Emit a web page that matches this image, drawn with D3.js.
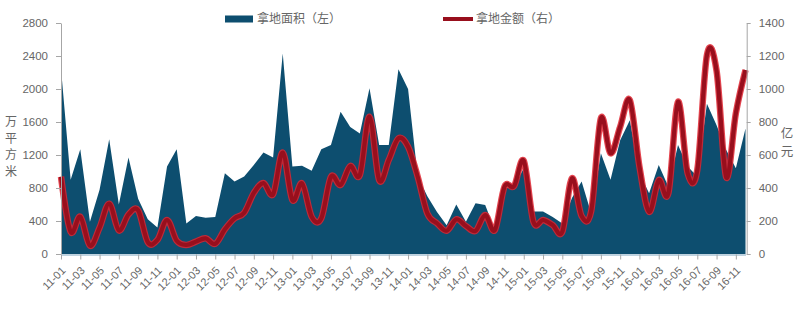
<!DOCTYPE html>
<html>
<head>
<meta charset="utf-8">
<script src="https://cdn.jsdelivr.net/npm/d3@7/dist/d3.min.js"></script>
<style>
  body { margin: 0; background: #fff; }
  svg { display: block; font-family: "Open Sans", "Noto Sans CJK SC", sans-serif; }
</style>
</head>
<body>
<svg id="chart"></svg>
<script>
// months 2011-01 .. 2016-12
const years = ['11', '12', '13', '14', '15', '16'];
const months = [];
years.forEach(y => { for (let m = 1; m <= 12; m++) months.push(y + '-' + String(m).padStart(2, '0')); });

// 拿地面积 (万平方米, left axis)
const areaValues = [
  2250, 900, 1270, 390, 780, 1390, 600, 1170, 670, 420, 320, 1060,
  1270, 370, 460, 440, 450, 980, 880, 940, 1080, 1230, 1170, 2430,
  1060, 1070, 1010, 1270, 1320, 1725, 1540, 1460, 2010, 1320, 1320, 2240,
  2000, 940, 700, 510, 350, 600, 390, 615, 595, 290, 800, 815,
  1040, 515, 515, 450, 370, 680, 880, 490, 1220, 900, 1380, 1620,
  980, 735, 1080, 815, 1320, 1060, 940, 1820, 1560, 1260, 1040, 1520
];

// 拿地金额 (亿元, right axis)
const amountValues = [
  468, 135, 226, 50, 160, 305, 143, 240, 265, 72, 85, 206,
  80, 55, 75, 95, 62, 150, 216, 250, 370, 430, 362, 615,
  327, 428, 226, 216, 468, 418, 533, 479, 832, 448, 570, 701,
  650, 468, 246, 186, 141, 210, 170, 140, 236, 145, 408, 412,
  565, 196, 206, 176, 135, 459, 230, 262, 822, 610, 771, 933,
  529, 256, 448, 368, 923, 489, 509, 1205, 1110, 465, 853, 1115
];

const leftTicks = [0, 400, 800, 1200, 1600, 2000, 2400, 2800];
const rightTicks = [0, 200, 400, 600, 800, 1000, 1200, 1400];
const xTicks = months.filter((d, i) => i % 2 === 0);

const seriesNames = ['拿地面积（左）', '拿地金额（右）'];
const leftTitle = '万平方米';
const rightTitle = '亿元';

const data = months.map((m, i) => ({ month: m, area: areaValues[i], amount: amountValues[i] }));

function createChart(data) {
    const width = 803, height = 309;
    const areaColor = '#0d4e6f';
    const textColor = '#666666';

    const svg = d3.select('#chart')
                  .attr('width', width)
                  .attr('height', height);

    const xScale = d3.scalePoint()
                     .domain(months)
                     .range([61, 745.5]);

    const yLeft = d3.scaleLinear()
                    .domain([0, 2800])
                    .range([254, 23]);

    const yRight = d3.scaleLinear()
                     .domain([0, 1400])
                     .range([254, 23]);

    // area
    const area = d3.area()
                   .x(d => xScale(d.month))
                   .y0(yLeft(0))
                   .y1(d => yLeft(d.area));

    svg.append('path')
       .datum(data)
       .attr('fill', areaColor)
       .attr('d', area);

    // smooth line with a light red rim
    const line = d3.line()
                   .x(d => xScale(d.month))
                   .y(d => yRight(d.amount))
                   .curve(d3.curveCardinal.tension(0));

    svg.append('path')
       .datum(data)
       .attr('fill', 'none')
       .attr('stroke', '#df2430')
       .attr('stroke-width', 6.5)
       .attr('stroke-opacity', 0.85)
       .attr('d', line);

    svg.append('path')
       .datum(data)
       .attr('fill', 'none')
       .attr('stroke', '#980f1d')
       .attr('stroke-width', 4.2)
       .attr('d', line);

    // left axis
    const gl = svg.append('g')
       .attr('transform', 'translate(61,0)')
       .call(d3.axisLeft(yLeft).tickValues(leftTicks).tickFormat(d3.format('d'))
              .tickSize(5).tickPadding(8).tickSizeOuter(0));
    gl.select('.domain').attr('stroke', '#a6a6a6');
    gl.selectAll('.tick line').attr('stroke', '#a6a6a6');
    gl.selectAll('text').attr('fill', textColor).style('font-size', '11.5px');

    // right axis
    const gr = svg.append('g')
       .attr('transform', 'translate(746.7,0)')
       .call(d3.axisRight(yRight).tickValues(rightTicks).tickFormat(d3.format('d'))
              .tickSize(4).tickPadding(8).tickSizeOuter(0));
    gr.select('.domain').attr('stroke', '#a6a6a6');
    gr.selectAll('.tick line').attr('stroke', '#a6a6a6');
    gr.selectAll('text').attr('fill', textColor).style('font-size', '11.5px');

    // bottom axis
    const gb = svg.append('g')
       .attr('transform', 'translate(0,254.5)')
       .call(d3.axisBottom(xScale).tickValues(xTicks).tickSize(5).tickSizeOuter(0));
    gb.select('.domain').attr('stroke', '#a9c3d4').attr('stroke-width', 1.5);
    gb.selectAll('.tick line').attr('stroke', '#a6a6a6');
    gb.selectAll('text')
      .attr('fill', textColor)
      .style('font-size', '11px')
      .style('text-anchor', 'end')
      .attr('x', 0)
      .attr('y', 0)
      .attr('dy', '0.35em')
      .attr('transform', 'translate(2,14) rotate(-45)');

    // axis titles (vertical characters)
    svg.append('g').selectAll('text')
       .data(leftTitle.split(''))
       .enter()
       .append('text')
       .attr('x', 11)
       .attr('y', (d, i) => 122 + i * 16.5)
       .attr('dy', '0.35em')
       .style('text-anchor', 'middle')
       .style('font-size', '12px')
       .style('font-family', '"Noto Sans CJK SC", sans-serif')
       .attr('fill', textColor)
       .text(d => d);

    svg.append('g').selectAll('text')
       .data(rightTitle.split(''))
       .enter()
       .append('text')
       .attr('x', 787)
       .attr('y', (d, i) => 134 + i * 18)
       .attr('dy', '0.35em')
       .style('text-anchor', 'middle')
       .style('font-size', '12.5px')
       .style('font-family', '"Noto Sans CJK SC", sans-serif')
       .attr('fill', textColor)
       .text(d => d);

    // legend
    svg.append('rect')
       .attr('x', 225)
       .attr('y', 15.5)
       .attr('width', 28)
       .attr('height', 7)
       .attr('fill', areaColor);

    svg.append('line')
       .attr('x1', 443)
       .attr('x2', 473)
       .attr('y1', 19)
       .attr('y2', 19)
       .attr('stroke', '#980f1d')
       .attr('stroke-width', 4);

    svg.selectAll('.legend-label')
       .data(seriesNames)
       .enter()
       .append('text')
       .attr('class', 'legend-label')
       .attr('x', (d, i) => i === 0 ? 257 : 476)
       .attr('y', 19)
       .attr('dy', '0.35em')
       .style('font-size', '12px')
       .style('font-family', '"Noto Sans CJK SC", sans-serif')
       .attr('fill', textColor)
       .text(d => d);
}

document.addEventListener('DOMContentLoaded', () => {
    createChart(data);
});
</script>
</body>
</html>
